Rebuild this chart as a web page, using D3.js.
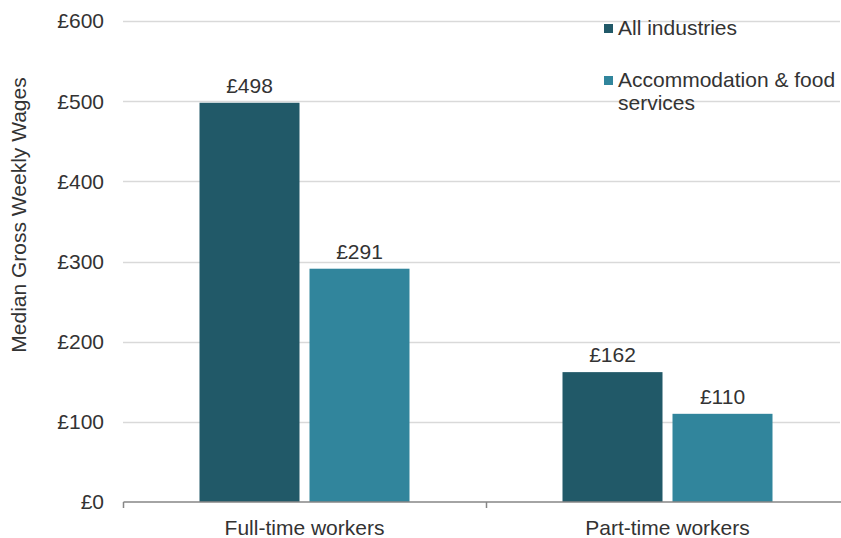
<!DOCTYPE html>
<html>
<head>
<meta charset="utf-8">
<script src="https://cdn.jsdelivr.net/npm/d3@7/dist/d3.min.js"></script>
<style>
  body { margin: 0; background: #fff; }
  svg { display: block; font-family: "Liberation Sans", Arial, sans-serif; }
</style>
</head>
<body>
<svg id="chart" width="841" height="538"></svg>
<script>
// Median gross weekly wages by working pattern
const categories = ["Full-time workers", "Part-time workers"];
const seriesNames = ["All industries", "Accommodation & food services"];
const allIndustries = [498, 162];
const accommodationFood = [291, 110];
const yTicks = [0, 100, 200, 300, 400, 500, 600];
const colors = ["#215968", "#31859c"];

const series = [allIndustries, accommodationFood];
const FS = 21;
const TXT = "#333333";

const svg = d3.select("#chart");

const x = d3.scaleBand().domain(categories).range([123, 849]).paddingInner(0).paddingOuter(0);
const y = d3.scaleLinear().domain([0, 600]).range([502, 21]);

const barW = 100, gap = 10;
const groupW = barW * 2 + gap;

// gridlines
svg.append("g")
  .selectAll("line")
  .data(yTicks.filter(d => d > 0))
  .join("line")
  .attr("x1", 123).attr("x2", 840)
  .attr("y1", d => Math.round(y(d)) + 0.5)
  .attr("y2", d => Math.round(y(d)) + 0.5)
  .attr("stroke", "#d9d9d9").attr("stroke-width", 1.5);

// y tick labels
svg.append("g")
  .selectAll("text")
  .data(yTicks)
  .join("text")
  .attr("x", 104)
  .attr("y", d => y(d))
  .attr("dy", "0.35em")
  .attr("text-anchor", "end")
  .attr("font-size", FS)
  .attr("fill", TXT)
  .text(d => "£" + d);

// y axis title
svg.append("text")
  .attr("transform", `translate(26,215) rotate(-90)`)
  .attr("text-anchor", "middle")
  .attr("font-size", FS)
  .attr("fill", TXT)
  .text("Median Gross Weekly Wages");

// bars and value labels
series.forEach((vals, si) => {
  const g = svg.append("g");
  const bx = i => x(categories[i]) + (x.bandwidth() - groupW) / 2 + si * (barW + gap);
  g.selectAll("rect")
    .data(vals)
    .join("rect")
    .attr("x", (d, i) => bx(i))
    .attr("width", barW)
    .attr("y", d => y(d))
    .attr("height", d => y(0) - y(d))
    .attr("fill", colors[si]);
  g.selectAll("text")
    .data(vals)
    .join("text")
    .attr("x", (d, i) => bx(i) + barW / 2)
    .attr("y", d => y(d) - 10)
    .attr("text-anchor", "middle")
    .attr("font-size", FS)
    .attr("fill", TXT)
    .text(d => "£" + d);
});

// x axis
const xAxis = d3.axisBottom(x).tickSize(0).tickFormat(d => d);
const ax = svg.append("g").attr("transform", "translate(0,502)").call(xAxis);
ax.select(".domain").attr("stroke", "#868686").attr("stroke-width", 1.5).attr("d", "M123.5,0H849");
ax.selectAll(".tick text")
  .attr("font-size", FS).attr("fill", TXT).attr("dy", 0).attr("y", 33)
  .attr("font-family", "Liberation Sans, Arial, sans-serif");
// category boundary ticks
svg.append("g").selectAll("line")
  .data([123, x(categories[1])])
  .join("line")
  .attr("x1", d => Math.round(d) + 0.5).attr("x2", d => Math.round(d) + 0.5)
  .attr("y1", 502).attr("y2", 508)
  .attr("stroke", "#868686").attr("stroke-width", 1.5);

// legend
const legend = svg.append("g");
const legendRows = [[seriesNames[0]], ["Accommodation & food", "services"]];
const legendBase = [35, 87];
legendRows.forEach((lines, i) => {
  legend.append("rect")
    .attr("x", 604).attr("y", legendBase[i] - 11).attr("width", 9).attr("height", 9)
    .attr("fill", colors[i]);
  const t = legend.append("text")
    .attr("x", 618).attr("y", legendBase[i])
    .attr("font-size", FS).attr("fill", TXT);
  lines.forEach((ln, j) => {
    t.append("tspan").attr("x", 618).attr("dy", j === 0 ? 0 : 23).text(ln);
  });
});
</script>
</body>
</html>
